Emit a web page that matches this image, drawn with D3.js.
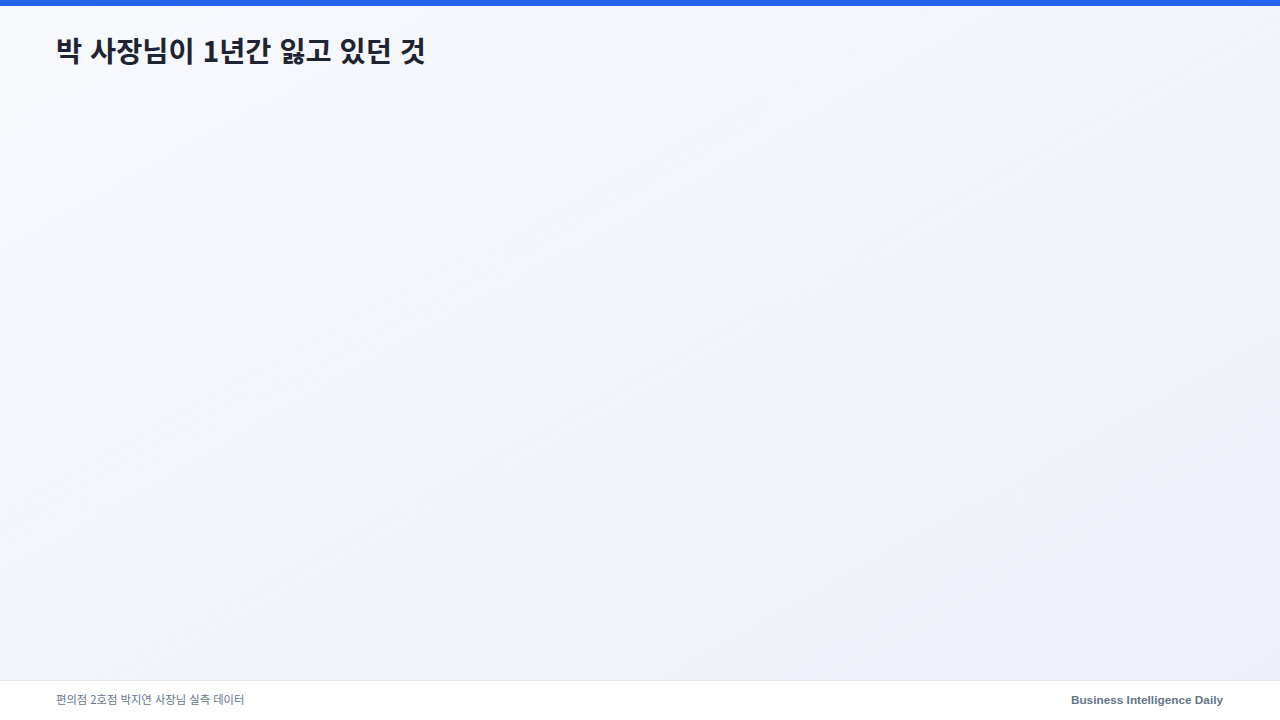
<!DOCTYPE html>
<html lang="ko">
<head>
<meta charset="UTF-8">
<title>박 사장님이 1년간 잃고 있던 것</title>
<script src="https://cdn.jsdelivr.net/npm/d3@7"></script>
<style>
  html, body { margin: 0; padding: 0; }
  body { width: 1280px; height: 720px; overflow: hidden; }
  svg { display: block; }
</style>
</head>
<body>
<svg id="chart" width="1280" height="720"></svg>
<script>
// texts shown on the slide
const titleText = "박 사장님이 1년간 잃고 있던 것";
const sourceText = "편의점 2호점 박지연 사장님 실측 데이터";
const brandText = "Business Intelligence Daily";

// the reference shows no marks, so the series is empty
const categories = [];
const values = [];

const W = 1280, H = 720;
const svg = d3.select("#chart");

// background gradient
const defs = svg.append("defs");
const grad = defs.append("linearGradient")
  .attr("id", "bg").attr("x1", "0").attr("y1", "0").attr("x2", "1").attr("y2", "1");
grad.append("stop").attr("offset", "0%").attr("stop-color", "#f8f9fd");
grad.append("stop").attr("offset", "100%").attr("stop-color", "#edf0f9");

svg.append("rect").attr("width", W).attr("height", H).attr("fill", "url(#bg)");

// top accent bar
svg.append("rect").attr("width", W).attr("height", 6).attr("fill", "#2563eb");

// title
svg.append("text")
  .attr("x", 56).attr("y", 62)
  .attr("font-family", "'Noto Sans CJK KR', 'Noto Sans', sans-serif")
  .attr("font-weight", 700)
  .attr("font-size", 28.4)
  .attr("fill", "#1e2433")
  .text(titleText);

// chart area (empty in the reference)
const x = d3.scaleBand().domain(categories).range([56, 1224]).padding(0.3);
const y = d3.scaleLinear().domain([0, d3.max(values) || 1]).range([640, 110]);
svg.append("g").selectAll("rect")
  .data(values)
  .join("rect")
  .attr("x", (d, i) => x(categories[i]))
  .attr("y", d => y(d))
  .attr("width", x.bandwidth())
  .attr("height", d => y(0) - y(d))
  .attr("fill", "#2563eb");

// footer
svg.append("rect").attr("x", 0).attr("y", 680).attr("width", W).attr("height", 40).attr("fill", "#ffffff");
svg.append("line").attr("x1", 0).attr("x2", W).attr("y1", 680.5).attr("y2", 680.5)
  .attr("stroke", "#e2e8f0").attr("stroke-width", 1);

svg.append("text")
  .attr("x", 56).attr("y", 703.5)
  .attr("font-family", "'Noto Sans CJK KR', 'Noto Sans', sans-serif")
  .attr("font-size", 11.3)
  .attr("fill", "#64748b")
  .text(sourceText);

svg.append("text")
  .attr("x", 1223).attr("y", 704)
  .attr("text-anchor", "end")
  .attr("font-family", "'Liberation Sans', Arial, sans-serif")
  .attr("font-weight", 700)
  .attr("font-size", 11.8)
  .attr("fill", "#64748b")
  .text(brandText);
</script>
</body>
</html>
